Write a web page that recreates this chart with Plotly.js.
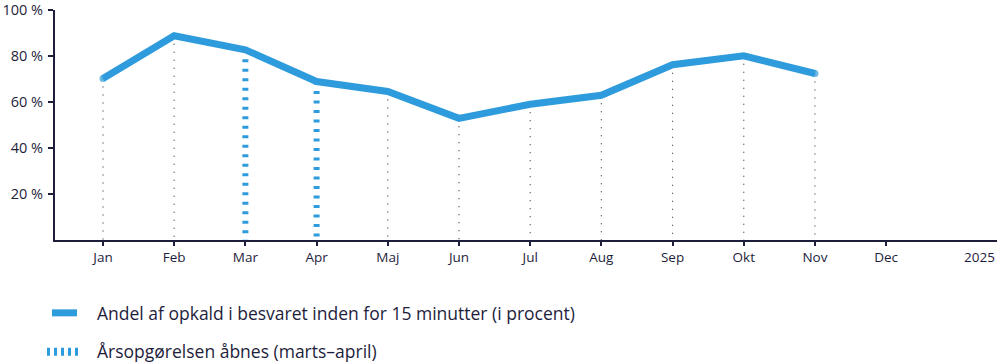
<!DOCTYPE html>
<html>
<head>
<meta charset="utf-8">
<script src="https://cdn.plot.ly/plotly-3.0.1.min.js"></script>
<style>html,body{margin:0;padding:0;background:#fff;}#chart{width:1000px;height:363px;}</style>
</head>
<body>
<div id="chart"></div>
<script>
const months = ["Jan","Feb","Mar","Apr","Maj","Jun","Jul","Aug","Sep","Okt","Nov","Dec"];
const values = [70.2, 88.8, 82.7, 68.9, 64.6, 52.9, 59.0, 62.9, 76.2, 80.1, 72.4, null];
const highlightMonths = ["Mar","Apr"];
const yTicks = [20, 40, 60, 80, 100];
const yTickText = ["20 %","40 %","60 %","80 %","100 %"];
const seriesName = "Andel af opkald i besvaret inden for 15 minutter (i procent)";
const highlightName = "Årsopgørelsen åbnes (marts–april)";
const yearLabel = "2025";

const BLUE = "#2e9bdc";
const NAVY = "#1e1e3c";
const FONT = "'Open Sans', 'Noto Sans', sans-serif";

const xIdx = months.map((m,i)=>i);

const dx = [], dy = [];
months.forEach((m,i)=>{
  if (values[i] == null || highlightMonths.includes(m)) return;
  dx.push(i,i,null); dy.push(values[i],0,null);
});
const hx = [], hy = [];
months.forEach((m,i)=>{
  if (values[i] == null || !highlightMonths.includes(m)) return;
  hx.push(i,i,null); hy.push(values[i],0,null);
});

const lineX = xIdx.filter(i => values[i] != null);
const lineY = lineX.map(i => values[i]);
const endSizes = lineX.map((_, k) => (k === 0 || k === lineX.length - 1) ? 7 : 0);

const traces = [
  {x: dx, y: dy, mode: "lines", line: {color: "#3a3a4a", width: 1.2, dash: "1px,7px"}, hoverinfo: "skip", showlegend: false},
  {x: hx, y: hy, mode: "lines", line: {color: BLUE, width: 6, dash: "3px,6.5px"}, hoverinfo: "skip", showlegend: false},
  {x: lineX, y: lineY, mode: "lines+markers", line: {color: BLUE, width: 7},
   marker: {color: BLUE, size: endSizes, line: {width: 0}}, showlegend: false}
];

const TOP = 9.5, BOT = 240;
const plotH = BOT - TOP;
function py(pix){ return (BOT - pix) / plotH; }
const plotW = 942;
function px(pix){ return (pix - 55) / plotW; }

const axCommon = {showgrid: false, zeroline: false, fixedrange: true};

const layout = {
  width: 1000, height: 363,
  margin: {l: 55, r: 3, t: TOP, b: 363 - BOT},
  paper_bgcolor: "#fff", plot_bgcolor: "#fff",
  font: {family: FONT, color: NAVY, size: 13},
  showlegend: false,
  xaxis: Object.assign({}, axCommon, {
    range: [-0.674, 12.557],
    tickvals: xIdx, ticktext: months,
    showline: true, linecolor: NAVY, linewidth: 2,
    ticks: "outside", ticklen: 4, tickwidth: 2, tickcolor: NAVY,
    tickfont: {size: 13.5, color: NAVY, family: FONT},
    ticklabeloverflow: "allow"
  }),
  xaxis2: Object.assign({}, axCommon, {
    overlaying: "x", matches: "x", side: "bottom", anchor: "y",
    tickvals: xIdx, showticklabels: false,
    ticks: "inside", ticklen: 4, tickwidth: 2, tickcolor: NAVY
  }),
  yaxis: Object.assign({}, axCommon, {
    range: [0, 100],
    tickmode: "array",
    tickvals: yTicks, ticktext: yTickText,
    showline: true, linecolor: NAVY, linewidth: 2,
    ticks: "outside", ticklen: 5, tickwidth: 2, tickcolor: NAVY,
    tickfont: {size: 14.5, color: NAVY, family: FONT},
    ticklabelstandoff: 2,
    ticklabeloverflow: "allow"
  }),
  yaxis2: Object.assign({}, axCommon, {
    overlaying: "y", matches: "y", side: "left", anchor: "x",
    tickmode: "array",
    tickvals: yTicks, showticklabels: false,
    ticks: "inside", ticklen: 4, tickwidth: 2, tickcolor: NAVY
  }),
  shapes: [
    {type: "line", xref: "paper", yref: "paper", x0: px(52), x1: px(77), y0: py(313), y1: py(313), line: {color: BLUE, width: 7}},
    {type: "line", xref: "paper", yref: "paper", x0: px(47), x1: px(80), y0: py(352), y1: py(352), line: {color: BLUE, width: 8, dash: "3px,4px"}}
  ],
  annotations: [
    {xref: "paper", yref: "paper", x: 1, y: py(257), xanchor: "right", yanchor: "middle", text: yearLabel, showarrow: false, font: {size: 13.5, color: NAVY, family: FONT}},
    {xref: "paper", yref: "paper", x: px(95), y: py(313), xanchor: "left", yanchor: "middle", text: seriesName, showarrow: false, font: {size: 17.5, color: NAVY, family: FONT}},
    {xref: "paper", yref: "paper", x: px(95), y: py(351), xanchor: "left", yanchor: "middle", text: highlightName, showarrow: false, font: {size: 17.5, color: NAVY, family: FONT}}
  ]
};

Plotly.newPlot("chart", traces, layout, {displayModeBar: false, staticPlot: true});
</script>
</body>
</html>
